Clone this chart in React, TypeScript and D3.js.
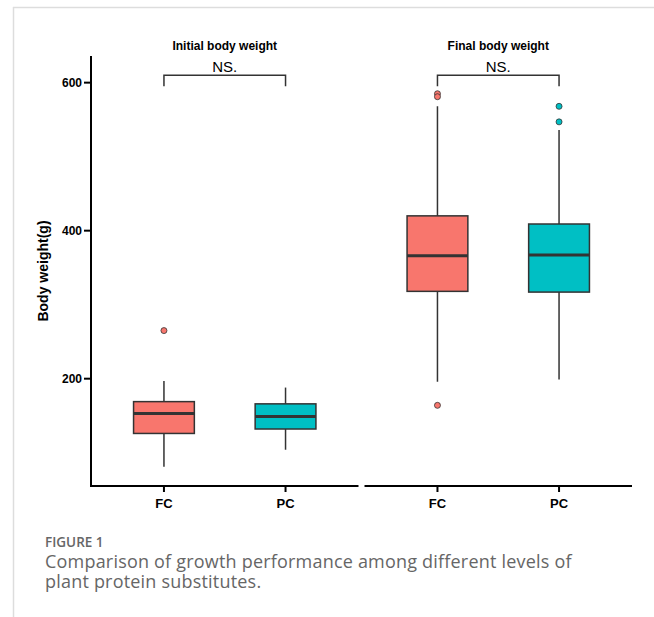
import React from 'react';
import { scaleLinear, scaleBand, scalePoint } from 'd3';

const panelTitles = ['Initial body weight', 'Final body weight'];
const categories = ['FC', 'PC'];
const colors = ['#F8766D', '#00BFC4'];
// per panel, per category
const whiskerLow = [[81, 104], [196, 199]];
const q1 = [[126, 132], [318, 317]];
const median = [[153, 149], [366, 367]];
const q3 = [[169, 166], [420, 409]];
const whiskerHigh = [[197, 188], [568, 536]];
const outliers = [[[265], []], [[585, 581, 164], [568, 547]]];
const yTicks = [200, 400, 600];
const sigLabels = ['NS.', 'NS.'];
const bracketTop = 610;
const bracketLeg = 595;

const width = 654;
const height = 617;
const plotTop = 56;
const plotBottom = 486;
const plotLeft = 91;
const plotRight = 632;

const App = () => {
  const y = scaleLinear().domain([55, 636]).range([plotBottom, plotTop]);
  const panelScale = scaleBand<string>()
    .domain(panelTitles)
    .range([plotLeft, plotRight])
    .paddingInner(0.022);

  const font = 'Liberation Sans, Arial, sans-serif';
  const capFont = 'Open Sans, sans-serif';

  return (
    <svg width={width} height={height} style={{ position: 'absolute', left: 0, top: 0 }}>
      <rect width={width} height={height} fill="#fff" />
      {/* page frame */}
      <line x1={13} x2={width} y1={7.5} y2={7.5} stroke="#ddd" strokeWidth={1.5} />
      <line x1={13.5} x2={13.5} y1={7} y2={height} stroke="#ddd" strokeWidth={1.5} />

      {/* y axis */}
      <line x1={plotLeft} x2={plotLeft} y1={plotTop} y2={plotBottom + 1} stroke="#000" strokeWidth={2} />
      {yTicks.map(t => (
        <g key={t} transform={`translate(${plotLeft}, ${y(t)})`}>
          <line x1={-7} x2={0} stroke="#000" strokeWidth={2} />
          <text x={-9} dy="0.35em" textAnchor="end" fontFamily={font} fontWeight="bold" fontSize={12}>
            {t}
          </text>
        </g>
      ))}
      <text
        transform={`translate(48, ${(plotTop + plotBottom) / 2}) rotate(-90)`}
        textAnchor="middle"
        fontFamily={font}
        fontWeight="bold"
        fontSize={14}
      >
        Body weight(g)
      </text>

      {panelTitles.map((title, pi) => {
        const x0 = panelScale(title)!;
        const x1 = x0 + panelScale.bandwidth();
        const x = scalePoint<string>().domain(categories).range([x0, x1]).padding(0.6);
        const boxW = x.step() * 0.5;
        const mid = (x0 + x1) / 2;
        return (
          <g key={title}>
            {/* x axis segment */}
            <line x1={x0} x2={x1} y1={plotBottom} y2={plotBottom} stroke="#000" strokeWidth={2} />
            <text x={mid} y={50} textAnchor="middle" fontFamily={font} fontWeight="bold" fontSize={12}>
              {title}
            </text>
            {/* significance bracket */}
            <path
              d={`M${x(categories[0])},${y(bracketLeg)}V${y(bracketTop)}H${x(categories[1])}V${y(bracketLeg)}`}
              fill="none"
              stroke="#333"
              strokeWidth={1.5}
            />
            <text x={mid} y={y(bracketTop) - 3} textAnchor="middle" fontFamily={font} fontSize={15}>
              {sigLabels[pi]}
            </text>
            {categories.map((c, ci) => {
              const cx = x(c)!;
              return (
                <g key={c}>
                  <line x1={cx} x2={cx} y1={plotBottom} y2={plotBottom + 6} stroke="#000" strokeWidth={2} />
                  <text x={cx} y={508} textAnchor="middle" fontFamily={font} fontWeight="bold" fontSize={13}>
                    {c}
                  </text>
                  <line x1={cx} x2={cx} y1={y(whiskerLow[pi][ci])} y2={y(whiskerHigh[pi][ci])} stroke="#333" strokeWidth={1.5} />
                  <rect
                    x={cx - boxW / 2}
                    y={y(q3[pi][ci])}
                    width={boxW}
                    height={y(q1[pi][ci]) - y(q3[pi][ci])}
                    fill={colors[ci]}
                    stroke="#333"
                    strokeWidth={1.5}
                  />
                  <line
                    x1={cx - boxW / 2}
                    x2={cx + boxW / 2}
                    y1={y(median[pi][ci])}
                    y2={y(median[pi][ci])}
                    stroke="#333"
                    strokeWidth={3}
                  />
                  {outliers[pi][ci].map((o, oi) => (
                    <circle key={oi} cx={cx} cy={y(o)} r={3} fill={colors[ci]} stroke="#333" strokeWidth={0.8} />
                  ))}
                </g>
              );
            })}
          </g>
        );
      })}

      {/* caption */}
      <text x={45} y={547} fontFamily={capFont} fontWeight={600} fontSize={13.5} fill="#666">
        FIGURE 1
      </text>
      <text x={45} y={568} fontFamily={capFont} fontSize={18} letterSpacing={0.2} fill="#666">
        Comparison of growth performance among different levels of
      </text>
      <text x={45} y={588} fontFamily={capFont} fontSize={18} letterSpacing={0.2} fill="#666">
        plant protein substitutes.
      </text>
    </svg>
  );
};

export default App;
